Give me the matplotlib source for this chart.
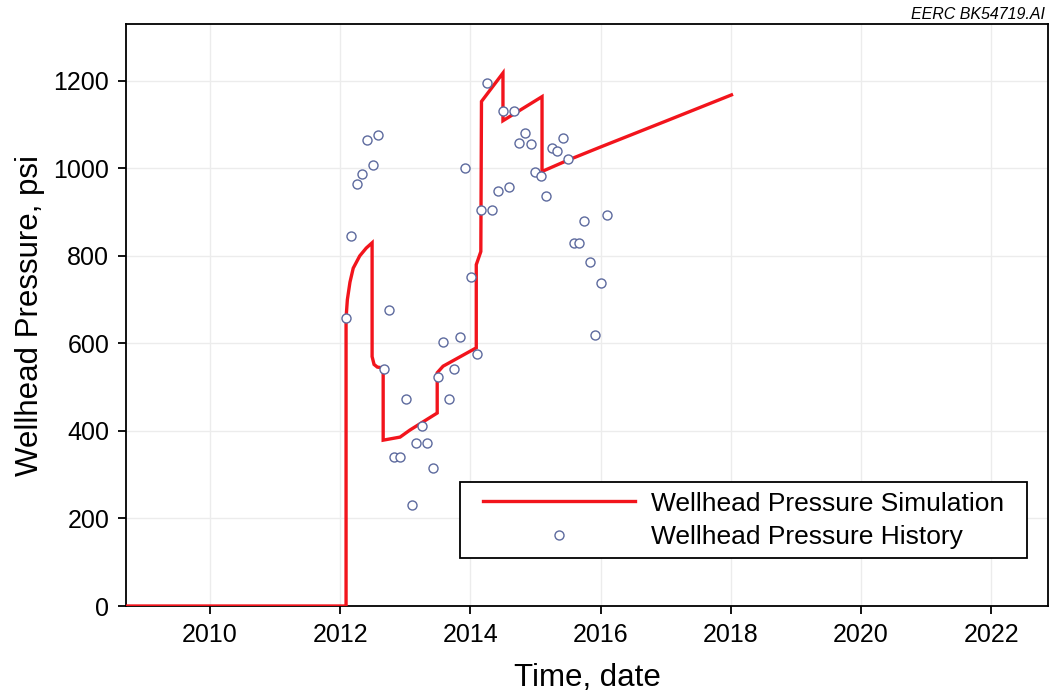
import matplotlib
matplotlib.use("Agg")
import matplotlib.pyplot as plt
from matplotlib.legend_handler import HandlerLine2D

plt.rcParams["font.family"] = ["Liberation Sans", "DejaVu Sans"]

# Simulated wellhead pressure (decimal year, psi)
sim_year = [2008.71, 2012.09, 2012.09, 2012.11, 2012.15, 2012.20, 2012.30, 2012.40, 2012.49,
            2012.49, 2012.52, 2012.57, 2012.66, 2012.66, 2012.92, 2013.07, 2013.49,
            2013.49, 2013.58, 2014.09, 2014.09, 2014.16, 2014.17, 2014.50, 2014.50,
            2015.10, 2015.10, 2015.50, 2016.00, 2017.00, 2018.01]
sim_psi = [0, 0, 658, 700, 740, 772, 800, 818, 830,
           570, 552, 546, 544, 379, 386, 402, 441,
           533, 548, 590, 780, 810, 1153, 1218, 1109,
           1164, 993, 1019, 1049, 1108, 1168]

# Measured wellhead pressure history (decimal year, psi)
hist_year = [2012.089, 2012.166, 2012.253, 2012.339, 2012.416, 2012.499, 2012.585, 2012.677,
             2012.754, 2012.831, 2012.919, 2013.011, 2013.098, 2013.164, 2013.257, 2013.338,
             2013.421, 2013.498, 2013.584, 2013.671, 2013.753, 2013.840, 2013.922, 2014.005,
             2014.097, 2014.163, 2014.250, 2014.336, 2014.419, 2014.496, 2014.588, 2014.670,
             2014.751, 2014.839, 2014.926, 2014.997, 2015.089, 2015.161, 2015.249, 2015.335,
             2015.418, 2015.504, 2015.591, 2015.673, 2015.750, 2015.837, 2015.914, 2016.006,
             2016.094]
hist_psi = [659, 846, 965, 987, 1064, 1007, 1077, 542,
            677, 340, 340, 473, 230, 372, 412, 372,
            315, 523, 604, 474, 542, 614, 1000, 751,
            575, 904, 1196, 904, 948, 1132, 958, 1132,
            1059, 1082, 1056, 992, 983, 937, 1047, 1039,
            1070, 1021, 830, 830, 880, 786, 619, 739,
            894]

x_ticks = [2010, 2012, 2014, 2016, 2018, 2020, 2022]
y_ticks = [0, 200, 400, 600, 800, 1000, 1200]

fig = plt.figure(figsize=(10.5, 6.98), dpi=100)
ax = fig.add_axes([0.12, 0.1318, 0.878, 0.8338])

sim_line, = ax.plot(sim_year, sim_psi, color="#f2141c", lw=2.4, solid_joinstyle="miter",
                    label="Wellhead Pressure Simulation", zorder=3)
hist_pts, = ax.plot(hist_year, hist_psi, ls="none", marker="o", ms=6.5, mfc="white",
                    mec="#5d6a9e", mew=1.0, label="Wellhead Pressure History", zorder=4)

ax.set_xlim(2008.71, 2022.87)
ax.set_ylim(0, 1330)
ax.set_xticks(x_ticks)
ax.set_xticklabels([str(t) for t in x_ticks])
ax.set_yticks(y_ticks)
ax.grid(True, color="#ececec", lw=1.0, zorder=0)

for s in ax.spines.values():
    s.set_linewidth(1.3)
    s.set_color("black")
ax.tick_params(axis="both", direction="out", length=6, width=1.3, labelsize=18,
               top=False, right=False, pad=6)

ax.set_xlabel("Time, date", fontsize=22.5, labelpad=12)
ax.set_ylabel("Wellhead Pressure, psi", fontsize=22.5, labelpad=6)

leg = ax.legend(handles=[sim_line, hist_pts], loc="lower left", mode="expand",
                bbox_to_anchor=(0.3623, 0.0825, 0.615, 0.14), fontsize=19,
                markerscale=1.0, frameon=True, fancybox=False, edgecolor="black",
                framealpha=1, borderpad=0.35, handlelength=6.3, handletextpad=0.57,
                labelspacing=0.35, borderaxespad=0,
                handler_map={sim_line: HandlerLine2D(xpad=0.52),
                             hist_pts: HandlerLine2D(xpad=0.52)})
leg.get_frame().set_linewidth(1.3)

fig.text(0.995, 0.973, "EERC BK54719.AI", ha="right", va="baseline",
         fontsize=11.5, style="italic")

fig.savefig("out.png", dpi=100)
